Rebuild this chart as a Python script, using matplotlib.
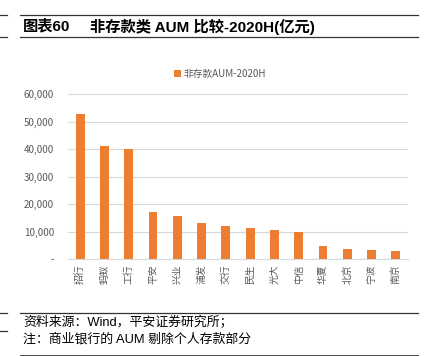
import numpy as np
import matplotlib.pyplot as plt
from matplotlib.lines import Line2D

plt.rcParams['font.family'] = ['Noto Sans CJK SC', 'DejaVu Sans']
mixed = ['Liberation Sans', 'Noto Sans CJK SC']

# 非存款类 AUM, 2020H, 亿元
banks = ['招行', '蚂蚁', '工行', '平安', '兴业', '浦发', '交行', '民生',
         '光大', '中信', '华夏', '北京', '宁波', '南京']
aum = [52800, 41000, 39900, 17200, 15700, 13000, 12000, 11400,
       10600, 9900, 4800, 3900, 3400, 3000]
yticks = [0, 10000, 20000, 30000, 40000, 50000, 60000]
ytick_labels = ['-', '10,000', '20,000', '30,000', '40,000', '50,000', '60,000']

W, H = 425, 356
fig = plt.figure(figsize=(W / 100, H / 100), dpi=100)

def fx(px):
    return px / W

def fy(py):
    return 1 - py / H

# page rules round the title and the notes
for py in [15, 37, 313]:
    fig.add_artist(Line2D([fx(20), fx(418)], [fy(py), fy(py)], color='#333333', lw=0.9))
fig.add_artist(Line2D([fx(20), fx(418)], [fy(355), fy(355)], color='#333333', lw=0.6))
for py in [15, 37, 313, 331]:
    fig.add_artist(Line2D([0, fx(7)], [fy(py), fy(py)], color='#333333', lw=0.9))

fig.text(fx(23), fy(26.5), '图表60', fontsize=11, fontweight='bold', va='center', ha='left',
         family=mixed)
fig.text(fx(90), fy(26.5), '非存款类 AUM 比较-2020H(亿元)', fontsize=11, fontweight='bold',
         va='center', ha='left', family=mixed)

ax = fig.add_axes([fx(68), fy(259.3), fx(408) - fx(68), fy(94) - fy(259.3)])
x = np.arange(len(banks))
ax.bar(x, aum, width=0.36, color='#ED7D31', label='非存款AUM-2020H', zorder=3)
ax.set_xlim(-0.5, len(banks) - 0.5)
ax.set_ylim(0, 60000)
ax.set_yticks(yticks)
ax.set_yticklabels(ytick_labels)
ax.set_xticks(x)
ax.set_xticklabels(banks, rotation=90)
ax.grid(axis='y', color='#D9D9D9', lw=0.8, zorder=0)
for s in ['top', 'right', 'left']:
    ax.spines[s].set_visible(False)
ax.spines['bottom'].set_color('#D9D9D9')
ax.tick_params(axis='both', length=0, labelsize=7, labelcolor='#595959')
ax.tick_params(axis='y', pad=10)
ax.tick_params(axis='x', pad=4)

ax.legend(loc='lower left', bbox_to_anchor=(fx(174), fy(79)), bbox_transform=fig.transFigure,
          frameon=False, fontsize=7, labelcolor='#595959', handlelength=0.7,
          handleheight=0.7, handletextpad=0.3, borderpad=0, borderaxespad=0)

fig.text(fx(23), fy(323), '资料来源：Wind，平安证券研究所；', fontsize=9.3, va='center', ha='left',
         family=mixed)
fig.text(fx(23), fy(339.5), '注：商业银行的 AUM 剔除个人存款部分', fontsize=9.3, va='center',
         ha='left', family=mixed)

fig.savefig('out.png', dpi=100)
